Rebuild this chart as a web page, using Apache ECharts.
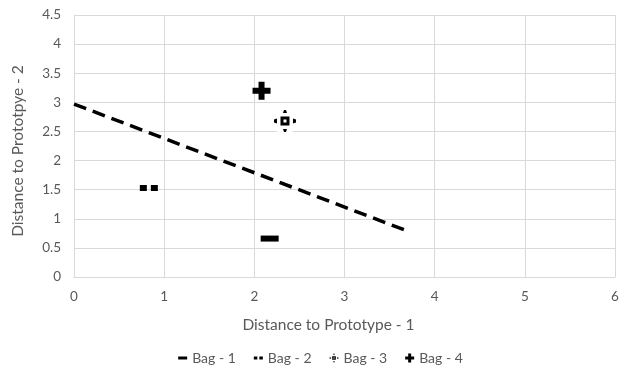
<!DOCTYPE html>
<html>
<head>
<meta charset="utf-8">
<script src="https://cdn.jsdelivr.net/npm/echarts@6/dist/echarts.min.js"></script>
<style>
  html, body { margin: 0; padding: 0; background: #fff; }
  #chart { width: 641px; height: 387px; }
</style>
</head>
<body>
<div id="chart"></div>
<script>
  // values
  var bag1 = [[2.17, 0.66]];
  var bag2 = [[0.83, 1.53]];
  var bag3 = [[2.34, 2.68]];
  var bag4 = [[2.08, 3.2]];
  var boundary = [[0, 2.97], [3.68, 0.8]];

  var seriesNames = ['Bag - 1', 'Bag - 2', 'Bag - 3', 'Bag - 4'];

  // marker shapes (excel style)
  var dashPath = 'path://M0,0h18v6h-18z';
  var dotsPath = 'path://M0,0h7v6h-7z M11,0h7v6h-7z';
  var crossPath = 'path://M9,3L13,3L12,0L10,0z M3,8.5L3,13.5L0,12.5L0,9.5z M19,8.5L22,9.5L22,12.5L19,13.5z M9,19L13,19L12,22L10,22z M6.5,6.5h9v9h-9z M9.5,9.5v3h3v-3z';
  var plusPath = 'path://M6,0h6v6h6v6h-6v6h-6v-6h-6v-6h6z';

  var txt = '#595959';
  var gridCol = '#d9d9d9';
  var font = 'Lato, "Liberation Sans", sans-serif';

  var chart = echarts.init(document.getElementById('chart'));

  var option = {
    animation: false,
    backgroundColor: '#fff',
    grid: {
      left: 74,
      right: 26,
      top: 15,
      bottom: 110
    },
    legend: {
      bottom: 17,
      left: 'center',
      itemWidth: 9,
      itemHeight: 9,
      itemGap: 18,
      textStyle: { color: txt, fontSize: 14, fontFamily: font },
      data: [
        { name: seriesNames[0], icon: dashPath },
        { name: seriesNames[1], icon: dotsPath },
        { name: seriesNames[2], icon: crossPath },
        { name: seriesNames[3], icon: plusPath }
      ]
    },
    xAxis: {
      type: 'value',
      min: 0,
      max: 6,
      interval: 1,
      name: 'Distance to Prototype - 1',
      nameLocation: 'middle',
      nameGap: 40,
      nameTextStyle: { color: txt, fontSize: 15.5, fontFamily: font, padding: [0, 32, 0, 0] },
      axisLine: { show: true, lineStyle: { color: gridCol } },
      axisTick: { show: false },
      axisLabel: { color: txt, fontSize: 13.5, fontFamily: font, margin: 13 },
      splitLine: { show: true, lineStyle: { color: gridCol } }
    },
    yAxis: {
      type: 'value',
      min: 0,
      max: 4.5,
      interval: 0.5,
      name: 'Distance to Prototpye - 2',
      nameLocation: 'middle',
      nameGap: 48,
      nameTextStyle: { color: txt, fontSize: 15.5, fontFamily: font, padding: [0, 10, 0, 0] },
      axisLine: { show: true, lineStyle: { color: gridCol } },
      axisTick: { show: false },
      axisLabel: { color: txt, fontSize: 13.5, fontFamily: font, margin: 13 },
      splitLine: { show: true, lineStyle: { color: gridCol } }
    },
    series: [
      {
        // white patch behind the bag 3 marker
        name: 'mask',
        type: 'scatter',
        data: bag3,
        symbol: 'circle',
        symbolSize: 26,
        itemStyle: { color: '#fff', opacity: 1 },
        silent: true,
        z: 1
      },
      {
        name: 'boundary',
        type: 'line',
        data: boundary,
        showSymbol: false,
        symbol: 'none',
        lineStyle: { color: '#000', width: 3.5, type: [13, 7] },
        silent: true,
        z: 2
      },
      {
        name: seriesNames[0],
        type: 'scatter',
        data: bag1,
        symbol: dashPath,
        symbolSize: [18, 6],
        itemStyle: { color: '#000', opacity: 1 },
        z: 3
      },
      {
        name: seriesNames[1],
        type: 'scatter',
        data: bag2,
        symbol: dotsPath,
        symbolSize: [18, 6],
        itemStyle: { color: '#000', opacity: 1 },
        z: 3
      },
      {
        name: seriesNames[2],
        type: 'scatter',
        data: bag3,
        symbol: crossPath,
        symbolSize: [22, 22],
        itemStyle: { color: '#000', opacity: 1 },
        z: 3
      },
      {
        name: seriesNames[3],
        type: 'scatter',
        data: bag4,
        symbol: plusPath,
        symbolSize: [18, 18],
        itemStyle: { color: '#000', opacity: 1 },
        z: 3
      }
    ]
  };

  chart.setOption(option);
</script>
</body>
</html>
